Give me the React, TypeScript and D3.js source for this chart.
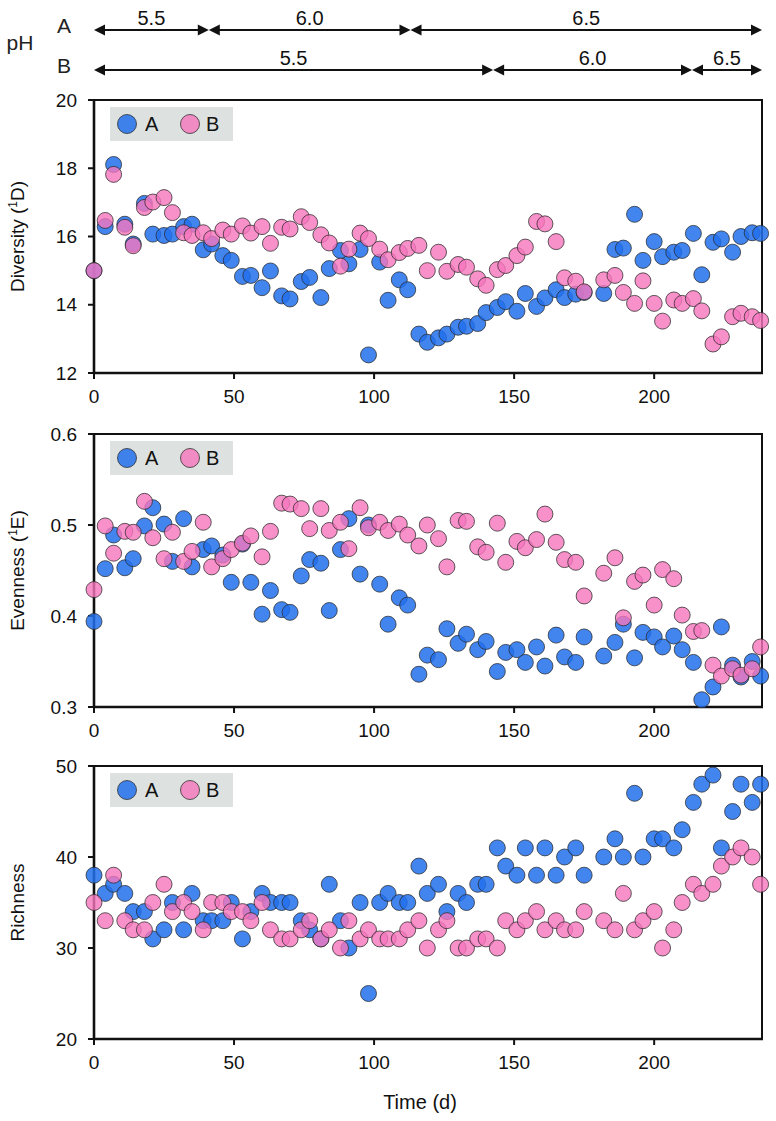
import React from "react";
import * as d3 from "d3";

const days = [0,4,7,11,14,18,21,25,28,32,35,39,42,46,49,53,56,60,63,67,70,74,77,81,84,88,91,95,98,102,105,109,112,116,119,123,126,130,133,137,140,144,147,151,154,158,161,165,168,172,175,182,186,189,193,196,200,203,207,210,214,217,221,224,228,231,235,238];

const diversityA = [15.0,16.29,18.11,16.36,15.78,16.97,16.07,16.03,16.07,16.29,16.36,15.61,15.78,15.44,15.30,14.83,14.86,14.50,14.99,14.26,14.17,14.68,14.80,14.21,15.06,15.59,15.20,15.62,12.53,15.25,14.13,14.73,14.44,13.14,12.90,13.03,13.14,13.34,13.37,13.45,13.77,13.92,14.09,13.81,14.33,13.95,14.20,14.44,14.21,14.31,14.36,14.33,15.62,15.66,16.65,15.30,15.85,15.41,15.54,15.59,16.09,14.88,15.83,15.93,15.54,16.0,16.11,16.09];
const diversityB = [15.0,16.47,17.82,16.27,15.73,16.85,17.01,17.14,16.70,16.11,16.03,16.11,15.94,16.19,16.07,16.31,16.10,16.29,15.80,16.27,16.22,16.58,16.41,16.05,15.81,15.13,15.63,16.10,15.94,15.63,15.32,15.53,15.65,15.74,15.0,15.54,14.98,15.18,15.10,14.76,14.57,15.03,15.15,15.44,15.69,16.44,16.37,15.85,14.79,14.69,14.38,14.73,14.86,14.36,14.04,14.70,14.04,13.52,14.14,14.04,14.18,13.82,12.85,13.06,13.65,13.75,13.65,13.54];

const evennessA = [0.394,0.452,0.489,0.453,0.463,0.499,0.519,0.501,0.460,0.507,0.454,0.473,0.477,0.467,0.437,0.479,0.437,0.402,0.428,0.407,0.404,0.444,0.462,0.458,0.406,0.473,0.507,0.446,0.500,0.435,0.391,0.420,0.412,0.336,0.357,0.352,0.386,0.370,0.380,0.363,0.372,0.339,0.360,0.363,0.349,0.366,0.345,0.379,0.355,0.349,0.377,0.356,0.371,0.391,0.354,0.382,0.377,0.366,0.378,0.363,0.349,0.308,0.322,0.388,0.346,0.333,0.350,0.334];
const evennessB = [0.429,0.499,0.469,0.493,0.492,0.526,0.486,0.463,0.492,0.460,0.471,0.503,0.454,0.463,0.473,0.480,0.488,0.465,0.493,0.524,0.523,0.518,0.496,0.518,0.494,0.503,0.474,0.519,0.497,0.503,0.494,0.501,0.489,0.477,0.500,0.485,0.454,0.505,0.504,0.476,0.470,0.502,0.459,0.482,0.475,0.484,0.512,0.481,0.462,0.459,0.422,0.447,0.464,0.398,0.438,0.445,0.412,0.451,0.441,0.401,0.383,0.384,0.346,0.334,0.342,0.335,0.342,0.366];

const richnessA = [38,36,37,36,34,34,31,32,35,32,36,33,33,33,35,31,34,36,35,35,35,33,32,31,37,33,30,35,25,35,36,35,35,39,36,37,34,36,35,37,37,41,39,38,41,38,41,38,40,41,38,40,42,40,47,40,42,42,41,43,46,48,49,41,45,48,46,48];
const richnessB = [35,33,38,33,32,32,35,37,34,35,34,32,35,35,34,34,33,35,32,31,31,32,33,31,32,30,33,31,32,31,31,31,32,33,30,32,33,30,30,31,31,30,33,32,33,34,32,33,32,32,34,33,32,36,32,33,34,30,32,35,37,36,37,39,40,41,40,37];

const xTicks = [0, 50, 100, 150, 200];
const diversityTicks = [12, 14, 16, 18, 20];
const evennessTicks = [0.3, 0.4, 0.5, 0.6];
const richnessTicks = [20, 30, 40, 50];

const phLabelsA = ["5.5", "6.0", "6.5"];
const phBreaksA = [0, 41, 113, 238.5];
const phLabelsB = ["5.5", "6.0", "6.5"];
const phBreaksB = [0, 142.5, 213.5, 238.5];

const FONT = "'Liberation Sans', Arial, Helvetica, sans-serif";
const BLUE = "#2270ec";
const PINK = "#f676bd";

const X0 = 94;
const X1 = 762;
const PH = 273;

const x = d3.scaleLinear().domain([0, 238.5]).range([X0, X1]);

type PanelProps = {
  top: number;
  domain: [number, number];
  ticks: number[];
  fmt: (v: number) => string;
  title: React.ReactNode;
  a: number[];
  b: number[];
};

function Dot({ cx, cy, fill, op, r = 8 }: { cx: number; cy: number; fill: string; op: number; r?: number }) {
  return (
    <circle cx={cx} cy={cy} r={r} fill={fill} fillOpacity={op} stroke="#2a2a2a" strokeOpacity={0.75} strokeWidth={1} />
  );
}

function Panel({ top, domain, ticks, fmt, title, a, b }: PanelProps) {
  const y = d3.scaleLinear().domain(domain).range([top + PH, top]);
  const bottom = top + PH;
  const mid = top + PH / 2;
  return (
    <g>
      <rect x={X0} y={top} width={X1 - X0} height={PH} fill="none" stroke="#111" strokeWidth={2} />
      <line x1={X0} x2={X0} y1={top - 1} y2={bottom + 1} stroke="#111" strokeWidth={2.6} />
      <line x1={X0 - 1} x2={X1 + 1} y1={bottom} y2={bottom} stroke="#111" strokeWidth={2.6} />
      {ticks.map((t) => (
        <g key={t}>
          <line x1={X0 - 6} x2={X0} y1={y(t)} y2={y(t)} stroke="#111" strokeWidth={2} />
          <text x={77} y={y(t)} dy="0.35em" textAnchor="end" fontSize={19} fontFamily={FONT} fill="#111">
            {fmt(t)}
          </text>
        </g>
      ))}
      {xTicks.map((t) => (
        <g key={t}>
          <line x1={x(t)} x2={x(t)} y1={bottom} y2={bottom + 6} stroke="#111" strokeWidth={2} />
          <text x={x(t)} y={bottom + 30} textAnchor="middle" fontSize={19} fontFamily={FONT} fill="#111">
            {t}
          </text>
        </g>
      ))}
      <text
        transform={`translate(24,${mid}) rotate(-90)`}
        textAnchor="middle"
        fontSize={19}
        fontFamily={FONT}
        fill="#111"
      >
        {title}
      </text>
      <rect x={110} y={top + 7} width={123} height={34} fill="#dde1df" />
      <Dot cx={127} cy={top + 24} fill={BLUE} op={0.85} r={9.5} />
      <text x={145} y={top + 31} fontSize={20} fontFamily={FONT} fill="#111">A</text>
      <Dot cx={190} cy={top + 24} fill={PINK} op={0.8} r={9.5} />
      <text x={206} y={top + 31} fontSize={20} fontFamily={FONT} fill="#111">B</text>
      {days.map((d, i) => (
        <Dot key={"a" + i} cx={x(d)} cy={y(a[i])} fill={BLUE} op={0.85} />
      ))}
      {days.map((d, i) => (
        <Dot key={"b" + i} cx={x(d)} cy={y(b[i])} fill={PINK} op={0.8} />
      ))}
    </g>
  );
}

function PhRow({ yLine, breaks, labels }: { yLine: number; breaks: number[]; labels: string[] }) {
  const segs = labels.map((l, i) => ({ l, x1: x(breaks[i]), x2: x(breaks[i + 1]) }));
  const ah = 11;
  const aw = 5.5;
  return (
    <g>
      {segs.map((s, i) => (
        <g key={i}>
          <line x1={s.x1 + ah - 1} x2={s.x2 - ah + 1} y1={yLine} y2={yLine} stroke="#111" strokeWidth={2} />
          <path d={`M${s.x1},${yLine} L${s.x1 + ah},${yLine - aw} L${s.x1 + ah},${yLine + aw} Z`} fill="#111" />
          <path d={`M${s.x2},${yLine} L${s.x2 - ah},${yLine - aw} L${s.x2 - ah},${yLine + aw} Z`} fill="#111" />
          <text x={(s.x1 + s.x2) / 2} y={yLine - 5} textAnchor="middle" fontSize={20} fontFamily={FONT} fill="#111">
            {s.l}
          </text>
        </g>
      ))}
    </g>
  );
}

export default function App() {
  return (
    <svg width={776} height={1121} style={{ display: "block", position: "absolute", left: 0, top: 0, background: "#fff" }}>
      <rect width={776} height={1121} fill="#fff" />
      <text x={20} y={50} textAnchor="middle" fontSize={21} fontFamily={FONT} fill="#222">pH</text>
      <text x={64} y={33} textAnchor="middle" fontSize={21} fontFamily={FONT} fill="#222">A</text>
      <text x={64} y={73} textAnchor="middle" fontSize={21} fontFamily={FONT} fill="#222">B</text>
      <PhRow yLine={30} breaks={phBreaksA} labels={phLabelsA} />
      <PhRow yLine={70} breaks={phBreaksB} labels={phLabelsB} />
      <Panel
        top={100}
        domain={[12, 20]}
        ticks={diversityTicks}
        fmt={(v) => String(v)}
        title={<>Diversity (<tspan fontSize={12} dy={-7}>1</tspan><tspan dy={7}>D)</tspan></>}
        a={diversityA}
        b={diversityB}
      />
      <Panel
        top={434}
        domain={[0.3, 0.6]}
        ticks={evennessTicks}
        fmt={(v) => v.toFixed(1)}
        title={<>Evenness (<tspan fontSize={12} dy={-7}>1</tspan><tspan dy={7}>E)</tspan></>}
        a={evennessA}
        b={evennessB}
      />
      <Panel
        top={766}
        domain={[20, 50]}
        ticks={richnessTicks}
        fmt={(v) => String(v)}
        title="Richness"
        a={richnessA}
        b={richnessB}
      />
      <text x={420} y={1109} textAnchor="middle" fontSize={20} fontFamily={FONT} fill="#111">Time (d)</text>
    </svg>
  );
}
